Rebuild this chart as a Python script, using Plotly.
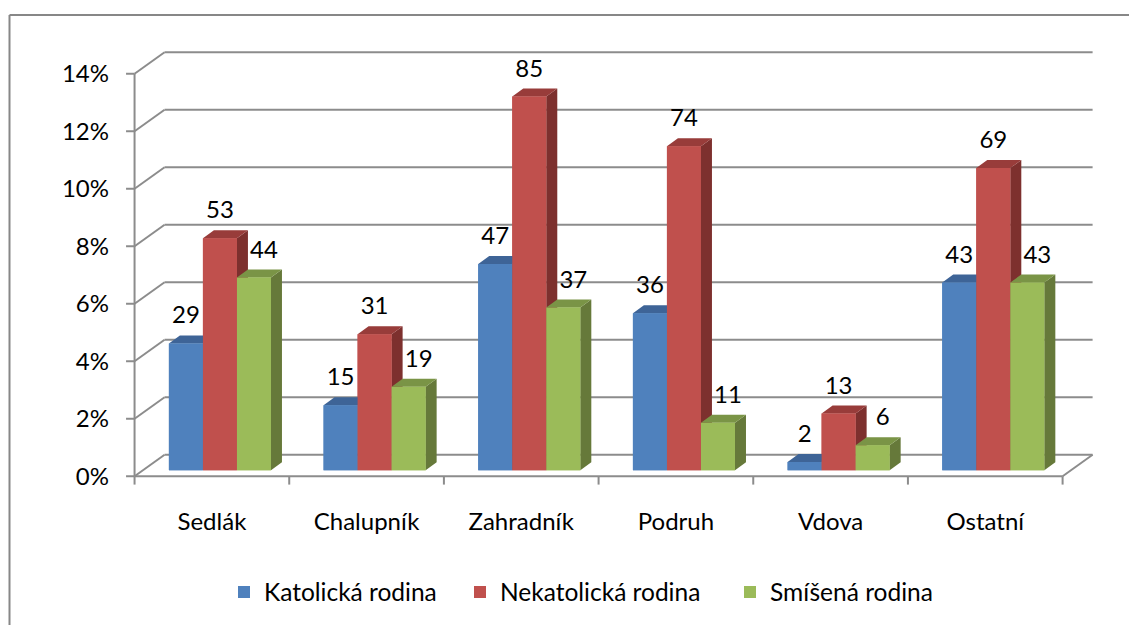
import plotly.graph_objects as go

# ---------------- data ----------------
categories = ["Sedlák", "Chalupník", "Zahradník", "Podruh", "Vdova", "Ostatní"]
series_names = ["Katolická rodina", "Nekatolická rodina", "Smíšená rodina"]
katolicka = [4.41, 2.26, 7.17, 5.46, 0.29, 6.53]        # percent
nekatolicka = [8.07, 4.73, 13.00, 11.27, 1.97, 10.51]   # percent
smisena = [6.70, 2.90, 5.66, 1.65, 0.87, 6.53]          # percent
katolicka_n = [29, 15, 47, 36, 2, 43]
nekatolicka_n = [53, 31, 85, 74, 13, 69]
smisena_n = [44, 19, 37, 11, 6, 43]
y_ticks = [0, 2, 4, 6, 8, 10, 12, 14]
y_ticktext = ["0%", "2%", "4%", "6%", "8%", "10%", "12%", "14%"]

values = [katolicka, nekatolicka, smisena]
counts = [katolicka_n, nekatolicka_n, smisena_n]

# ---------------- style ----------------
front_colors = ["#4F81BD", "#C0504D", "#9BBB59"]
top_colors = ["#3E6497", "#983C3A", "#7A9446"]
side_colors = ["#345480", "#7D302E", "#66793A"]
grid_color = "#8C8C8C"
FONT = "Lato"

# 3D geometry (in axis units)
DEPTH_X, DEPTH_Y = 0.194, 0.749      # back wall offset
BAR_DX, BAR_DY = 0.052, 0.209        # bar front plane offset
BAR_W = 0.22
SIDE_DX, SIDE_DY = 0.071, 0.278      # bar depth
LABEL_DY = 0.904
LABEL_SHIFT = [0.0, 0.0, 0.065]

X_RANGE = [-0.12, 6.3]
Y_RANGE = [-1, 15]
OFF = 8  # page body margin
ML, MR, MT, MB = 116 - OFF, 28 + OFF, 45 - OFF, 120 + OFF
W, H = 1137, 625
LEGEND_ICON_X = [240, 476, 746]

fig = go.Figure()

# ---------------- frame (gridlines, floor, axis) ----------------
shapes = []
line = dict(color=grid_color, width=2)
ncat = len(categories)
for v in y_ticks:
    shapes.append(dict(type="line", xref="x", yref="y", x0=0, y0=v, x1=DEPTH_X, y1=v + DEPTH_Y, line=line, layer="below"))
    shapes.append(dict(type="line", xref="x", yref="y", x0=DEPTH_X, y0=v + DEPTH_Y, x1=ncat + DEPTH_X, y1=v + DEPTH_Y, line=line, layer="below"))
    shapes.append(dict(type="line", xref="x", yref="y", x0=-0.055, y0=v, x1=0, y1=v, line=line, layer="below"))
# front vertical axis
shapes.append(dict(type="line", xref="x", yref="y", x0=0, y0=0, x1=0, y1=y_ticks[-1], line=line, layer="below"))
# floor front edge and right edge
shapes.append(dict(type="line", xref="x", yref="y", x0=0, y0=0, x1=ncat, y1=0, line=line, layer="below"))
shapes.append(dict(type="line", xref="x", yref="y", x0=ncat, y0=0, x1=ncat + DEPTH_X, y1=DEPTH_Y, line=line, layer="below"))
# category tick marks
for i in range(ncat + 1):
    shapes.append(dict(type="line", xref="x", yref="y", x0=i, y0=0, x1=i, y1=-0.29, line=line, layer="below"))

# page pixel -> paper coordinate helpers
def px_x(px):
    return (px - OFF - ML) / (W - ML - MR)

def px_y(py):
    return (H - MB - (py - OFF)) / (H - MT - MB)

# outer chart border (top and left visible)
shapes.append(dict(type="line", xref="paper", yref="paper", x0=px_x(9.5), y0=px_y(15), x1=px_x(1160), y1=px_y(15),
                   line=dict(color="#878787", width=2)))
shapes.append(dict(type="line", xref="paper", yref="paper", x0=px_x(9.5), y0=px_y(15), x1=px_x(9.5), y1=px_y(660),
                   line=dict(color="#878787", width=2)))

# ---------------- bars ----------------
def centers(j):
    return [i + 0.5 + BAR_DX + (j - 1) * BAR_W for i in range(ncat)]

legend_ids = ["legend", "legend2", "legend3"]

# legend entries (front faces, under the 3D faces)
for j in range(3):
    fig.add_trace(go.Bar(
        x=centers(j), y=values[j], base=BAR_DY, width=BAR_W, name=series_names[j],
        marker=dict(color=front_colors[j], line=dict(width=0)), hoverinfo="skip",
        legend=legend_ids[j]))

for j in range(3):
    cx = centers(j)
    sx, sy, tx, ty, fx, fy = [], [], [], [], [], []
    for c, v in zip(cx, values[j]):
        x0, x1 = c - BAR_W / 2, c + BAR_W / 2
        b, t = BAR_DY, BAR_DY + v
        sx += [x1, x1, x1 + SIDE_DX, x1 + SIDE_DX, x1, None]
        sy += [b, t, t + SIDE_DY, b + SIDE_DY, b, None]
        tx += [x0, x1, x1 + SIDE_DX, x0 + SIDE_DX, x0, None]
        ty += [t, t, t + SIDE_DY, t + SIDE_DY, t, None]
        fx += [x0, x1, x1, x0, x0, None]
        fy += [b, b, t, t, b, None]
    for xs, ys, col in [(sx, sy, side_colors[j]), (tx, ty, top_colors[j]), (fx, fy, front_colors[j])]:
        fig.add_trace(go.Scatter(x=xs, y=ys, mode="lines", fill="toself", fillcolor=col,
                                 line=dict(width=0, color=col), showlegend=False, hoverinfo="skip"))

# data labels
for j in range(3):
    fig.add_trace(go.Scatter(
        x=[c + LABEL_SHIFT[j] for c in centers(j)],
        y=[BAR_DY + v + LABEL_DY for v in values[j]],
        mode="text", text=[str(n) for n in counts[j]],
        textfont=dict(family=FONT, size=24, color="black"),
        textposition="middle center", cliponaxis=False, showlegend=False, hoverinfo="skip"))

legend_layout = {}
for j, lid in enumerate(legend_ids):
    legend_layout[lid] = dict(orientation="h", x=px_x(LEGEND_ICON_X[j] - 16), xanchor="left",
                              y=px_y(592), yanchor="middle", bgcolor="rgba(0,0,0,0)",
                              font=dict(family=FONT, size=24.5, color="black"))

fig.update_layout(
    width=W, height=H,
    margin=dict(l=ML, r=MR, t=MT, b=MB, pad=0),
    paper_bgcolor="white", plot_bgcolor="white",
    font=dict(family=FONT, size=24, color="black"),
    barmode="overlay",
    shapes=shapes,
    showlegend=True,
    **legend_layout,
    xaxis=dict(range=X_RANGE, showgrid=False, zeroline=False, showline=False,
               tickmode="array", tickvals=[i + 0.5 for i in range(ncat)], ticktext=categories,
               ticks="", tickfont=dict(family=FONT, size=24, color="black"), fixedrange=True),
    yaxis=dict(range=Y_RANGE, showgrid=False, zeroline=False, showline=False,
               tickmode="array", tickvals=y_ticks, ticktext=y_ticktext, ticklabelstandoff=6,
               ticks="", tickfont=dict(family=FONT, size=24, color="black"), fixedrange=True),
)

fig.write_html("out.html")
